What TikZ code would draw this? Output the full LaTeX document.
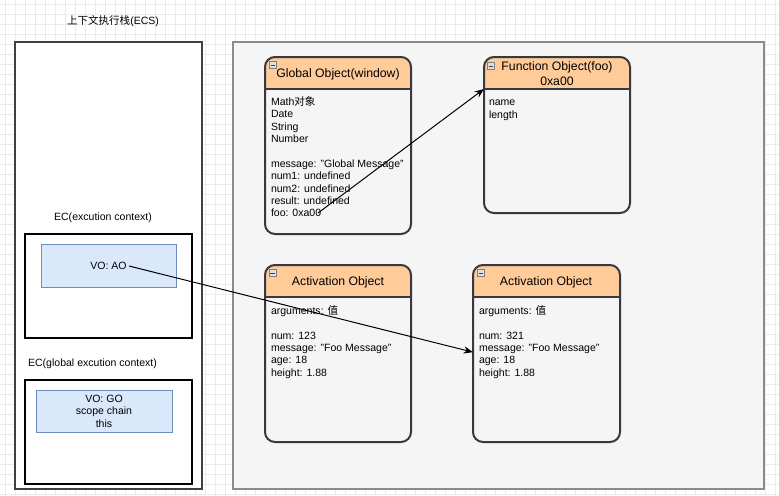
\documentclass[tikz,border=0pt]{standalone}
\usepackage{fontspec}
\setmainfont{Liberation Sans}
\newfontfamily\cjk{Noto Sans CJK SC}
\usetikzlibrary{arrows.meta}
\definecolor{hdr}{HTML}{FFCC99}
\definecolor{bodyc}{HTML}{F5F5F5}
\definecolor{objline}{HTML}{36393D}
\definecolor{voFill}{HTML}{DAE8FC}
\definecolor{voLine}{HTML}{6C8EBF}
\definecolor{gridc}{HTML}{EBEBEB}
\definecolor{areaLine}{HTML}{8A8A8A}
\definecolor{stackc}{HTML}{404040}
\newcommand\myBody{\fontsize{7.9pt}{9.3pt}\selectfont}
\newcommand\myHdr{\fontsize{9.2pt}{11.25pt}\selectfont}
\tikzset{
  every node/.style={inner sep=0pt, outer sep=0pt},
  plain/.style={draw=none},
  stackbox/.style={draw=stackc, line width=1pt, fill=white, anchor=north west},
  ecbox/.style={draw=black, line width=0.8pt, fill=white, anchor=north west, minimum width=125.25pt, minimum height=78pt},
  vobox/.style={draw=voLine, line width=0.75pt, fill=voFill, anchor=north west, font=\myBody, align=center},
  area/.style={draw=areaLine, line width=1pt, fill=bodyc, anchor=north west},
  objbox/.style={draw=objline, line width=1.5pt, fill=bodyc, rounded corners=7.5pt,
    anchor=north west, minimum width=109.5pt,
    path picture={
      \fill[hdr, sharp corners] (path picture bounding box.north west) rectangle ([yshift=-24pt]path picture bounding box.north east);
      \draw[objline, line width=1.5pt, sharp corners] ([yshift=-24pt]path picture bounding box.north west) -- ([yshift=-24pt]path picture bounding box.north east);
    }},
  icon/.style={draw=gray, fill=gray!25, line width=0.4pt, minimum size=5.5pt,
    path picture={\draw[black!75, line width=0.7pt] ([xshift=1pt]path picture bounding box.west) -- ([xshift=-1pt]path picture bounding box.east);}},
  hdrtext/.style={font=\myHdr, align=center},
  bodytext/.style={font=\myBody, align=left, anchor=north west},
  labeltext/.style={font=\myBody},
  conn/.style={-{Stealth[length=7pt,width=5.5pt]}, line width=0.75pt, black},
}
\begin{document}
\begin{tikzpicture}[x=0.75pt, y=-0.75pt]
\useasboundingbox (0,0) rectangle (779,496);
\fill[white] (0,0) rectangle (779,496);
\foreach \gx in {5,15,...,775} \draw[gridc, line width=0.5pt] (\gx,0) -- (\gx,496);
\foreach \gy in {4,14,...,494} \draw[gridc, line width=0.5pt] (0,\gy) -- (779,\gy);

% left: execution context stack
\node[labeltext] (title) at (113,21) {{\cjk 上下文执行栈}(ECS)};
\node[stackbox, minimum width=140.25pt, minimum height=335.25pt] (stack) at (15,42) {};
\node[labeltext] (eclab) at (103,218) {EC(excution context)};
\node[ecbox] (ec) at (25,234) {};
\node[vobox, minimum width=101.25pt, minimum height=32.25pt] (voao) at (41,244) {VO: AO};
\node[labeltext] (gclab) at (92.5,364) {EC(global excution context)};
\node[ecbox] (gec) at (25,380) {};
\node[vobox, minimum width=102pt, minimum height=31.5pt] (vogo) at (36,390) {VO: GO\\scope chain\\this};

% right: heap area
\node[area, minimum width=398.25pt, minimum height=335.25pt] (heap) at (233,42) {};

\node[objbox, minimum height=132.75pt] (go) at (265,57) {};
\node[objbox, minimum height=117pt] (fo) at (484,57) {};
\node[objbox, minimum height=132.75pt] (ao1) at (265,265) {};
\node[objbox, minimum height=132.75pt, minimum width=110.25pt] (ao2) at (473,265) {};

\node[icon] (goi) at (273,65) {};
\node[icon] (foi) at (491,66) {};
\node[icon] (ao1i) at (272.5,273) {};
\node[icon] (ao2i) at (481,273) {};

\node[hdrtext] (gohdr) at (338,74) {Global Object(window)};
\node[hdrtext] (fohdr) at (557,73.3) {Function Object(foo)\\0xa00};
\node[hdrtext] (ao1hdr) at (338,282) {Activation Object};
\node[hdrtext] (ao2hdr) at (546,282) {Activation Object};

\node[bodytext] (gobody) at (271,96) {\rule{0pt}{7pt}Math{\cjk 对象}\\Date\\String\\Number\\[9.3pt]message: "Global Message"\\num1: undefined\\num2: undefined\\result: undefined\\foo: 0xa00};
\node[bodytext] (fobody) at (489,96.5) {\rule{0pt}{7pt}name\\length};
\node[bodytext] (ao1body) at (271,305) {\rule{0pt}{7pt}arguments: {\cjk 值}\\[9.3pt]num: 123\\message: "Foo Message"\\age: 18\\height: 1.88};
\node[bodytext] (ao2body) at (479,305) {\rule{0pt}{7pt}arguments: {\cjk 值}\\[9.3pt]num: 321\\message: "Foo Message"\\age: 18\\height: 1.88};

% connectors
\coordinate (fooEnd) at (318,213);
\coordinate (aoStart) at (129,266);
\draw[conn] (fooEnd) -- ([yshift=-24pt]fo.north west);
\draw[conn] (aoStart) -- ([yshift=1pt]ao2.west);
\end{tikzpicture}
\end{document}
